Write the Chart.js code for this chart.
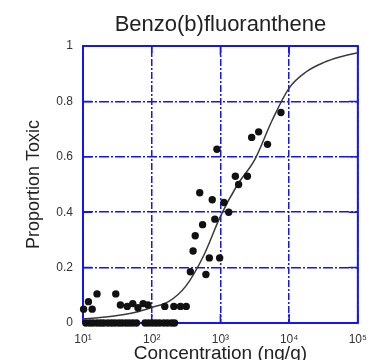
<!DOCTYPE html>
<html>
<head>
<meta charset="utf-8">
<script src="https://cdn.jsdelivr.net/npm/chart.js@4/dist/chart.umd.min.js"></script>
<style>
  html, body { margin: 0; padding: 0; background: #fff; }
  #wrap { width: 376px; height: 360px; }
</style>
</head>
<body>
<div id="wrap"><canvas id="c" width="376" height="360"></canvas></div>
<script>
// Sediment samples: concentration (ng/g) and proportion of toxic samples
const sampleConc = [
  7600, 3600, 2850, 4850, 890, 1650, 2470, 1840, 500, 760,
  1125, 1320, 830, 550, 430, 400, 690, 975, 365, 615,
  16, 30,
  10.2, 12, 13.6,
  35, 44, 53, 63, 75, 88, 155, 210, 262, 318,
  11, 12.5, 14, 16, 18, 20, 23, 26, 29, 33, 37, 42, 47, 53, 60,
  80, 90, 102, 115, 130, 150, 170, 195, 215
];
const sampleProp = [
  0.76, 0.69, 0.67, 0.645, 0.627, 0.53, 0.53, 0.50, 0.47, 0.445,
  0.435, 0.40, 0.375, 0.355, 0.315, 0.26, 0.235, 0.235, 0.185, 0.175,
  0.105, 0.105,
  0.05, 0.077, 0.05,
  0.065, 0.06, 0.07, 0.055, 0.07, 0.065, 0.06, 0.06, 0.06, 0.06,
  0, 0, 0, 0, 0, 0, 0, 0, 0, 0, 0, 0, 0, 0, 0,
  0, 0, 0, 0, 0, 0, 0, 0, 0
];

// Fitted response curve
const fitConc = [10, 17.8, 31.6, 56.2, 100, 178, 316, 562, 1000, 1778, 3162, 5623, 10000, 17783, 31623, 56234, 100000];
const fitProp = [0.015, 0.02, 0.027, 0.038, 0.056, 0.078, 0.134, 0.24, 0.385, 0.50, 0.59, 0.73, 0.848, 0.907, 0.94, 0.961, 0.976];

// Axis ticks
const xTickValues = [10, 100, 1000, 10000, 100000];
const xTickLabels = ['10\u00B9', '10\u00B2', '10\u00B3', '10\u2074', '10\u2075'];
const yTickValues = [0, 0.2, 0.4, 0.6, 0.8, 1];
const yTickLabels = ['0', '0.2', '0.4', '0.6', '0.8', '1'];

const BLUE = '#1414f5';
const FONT = "'Liberation Sans', Arial, sans-serif";
const TICK_LEN = 9;

const samples = sampleConc.map((c, i) => ({ x: c, y: sampleProp[i] }));
const fit = fitConc.map((c, i) => ({ x: c, y: fitProp[i] }));

// Solid frame around the plot with inward tick marks on all four sides
const framePlugin = {
  id: 'frame',
  beforeDatasetsDraw(chart) {
    const { ctx, chartArea: a, scales: { x, y } } = chart;
    ctx.save();
    ctx.strokeStyle = BLUE;
    ctx.lineWidth = 1.5;
    ctx.setLineDash([]);
    ctx.beginPath();
    x.ticks.forEach(t => {
      const p = x.getPixelForValue(t.value);
      ctx.moveTo(p, a.top); ctx.lineTo(p, a.top + TICK_LEN);
      ctx.moveTo(p, a.bottom); ctx.lineTo(p, a.bottom - TICK_LEN);
    });
    y.ticks.forEach(t => {
      const p = y.getPixelForValue(t.value);
      ctx.moveTo(a.left, p); ctx.lineTo(a.left + TICK_LEN, p);
      ctx.moveTo(a.right, p); ctx.lineTo(a.right - TICK_LEN, p);
    });
    ctx.stroke();
    ctx.lineWidth = 2;
    ctx.strokeRect(a.left, a.top, a.right - a.left, a.bottom - a.top);
    ctx.restore();
  }
};

new Chart(document.getElementById('c'), {
  type: 'scatter',
  data: {
    datasets: [
      {
        label: 'Samples',
        data: samples,
        showLine: false,
        pointRadius: 3.7,
        pointHoverRadius: 3.7,
        pointBackgroundColor: '#111',
        pointBorderWidth: 0,
        clip: false
      },
      {
        label: 'Fit',
        data: fit,
        showLine: true,
        pointRadius: 0,
        borderColor: '#3a3a3a',
        borderWidth: 1.5,
        cubicInterpolationMode: 'monotone',
        fill: false
      }
    ]
  },
  options: {
    responsive: false,
    animation: false,
    devicePixelRatio: 1,
    layout: { padding: { left: 0, right: 11, top: 0, bottom: 0 } },
    plugins: {
      legend: { display: false },
      tooltip: { enabled: false },
      title: {
        display: true,
        text: 'Benzo(b)fluoranthene',
        fullSize: false,
        color: '#222',
        font: { family: FONT, size: 22, weight: 'normal' },
        padding: { top: 12, bottom: 7.6 }
      }
    },
    scales: {
      x: {
        type: 'logarithmic',
        min: 10,
        max: 100000,
        afterBuildTicks: s => { s.ticks = xTickValues.map(v => ({ value: v })); },
        afterFit: s => { s.height = 37; },
        ticks: {
          callback: (v, i) => xTickLabels[i],
          color: '#333',
          font: { family: FONT, size: 12 },
          padding: 9,
          maxRotation: 0,
          autoSkip: false
        },
        grid: { color: BLUE, lineWidth: 1.5, drawTicks: false, borderDash: [7, 2, 2, 2] },
        border: { display: false, dash: [7, 2, 2, 2] },
        title: {
          display: true,
          text: 'Concentration (ng/g)',
          color: '#222',
          font: { family: FONT, size: 19, lineHeight: 1 },
          padding: { top: 0, bottom: -3 }
        }
      },
      y: {
        type: 'linear',
        min: 0,
        max: 1,
        afterBuildTicks: s => { s.ticks = yTickValues.map(v => ({ value: v })); },
        afterFit: s => { s.width = 83; },
        ticks: {
          callback: (v, i) => yTickLabels[i],
          color: '#333',
          font: { family: FONT, size: 12 },
          padding: 10
        },
        grid: { color: BLUE, lineWidth: 1.5, drawTicks: false, borderDash: [10, 2, 2, 2] },
        border: { display: false, dash: [10, 2, 2, 2] },
        title: {
          display: true,
          text: 'Proportion Toxic',
          color: '#222',
          font: { family: FONT, size: 18, lineHeight: 1.2 },
          padding: { top: 23, bottom: 0 }
        }
      }
    }
  },
  plugins: [framePlugin]
});
</script>
</body>
</html>
